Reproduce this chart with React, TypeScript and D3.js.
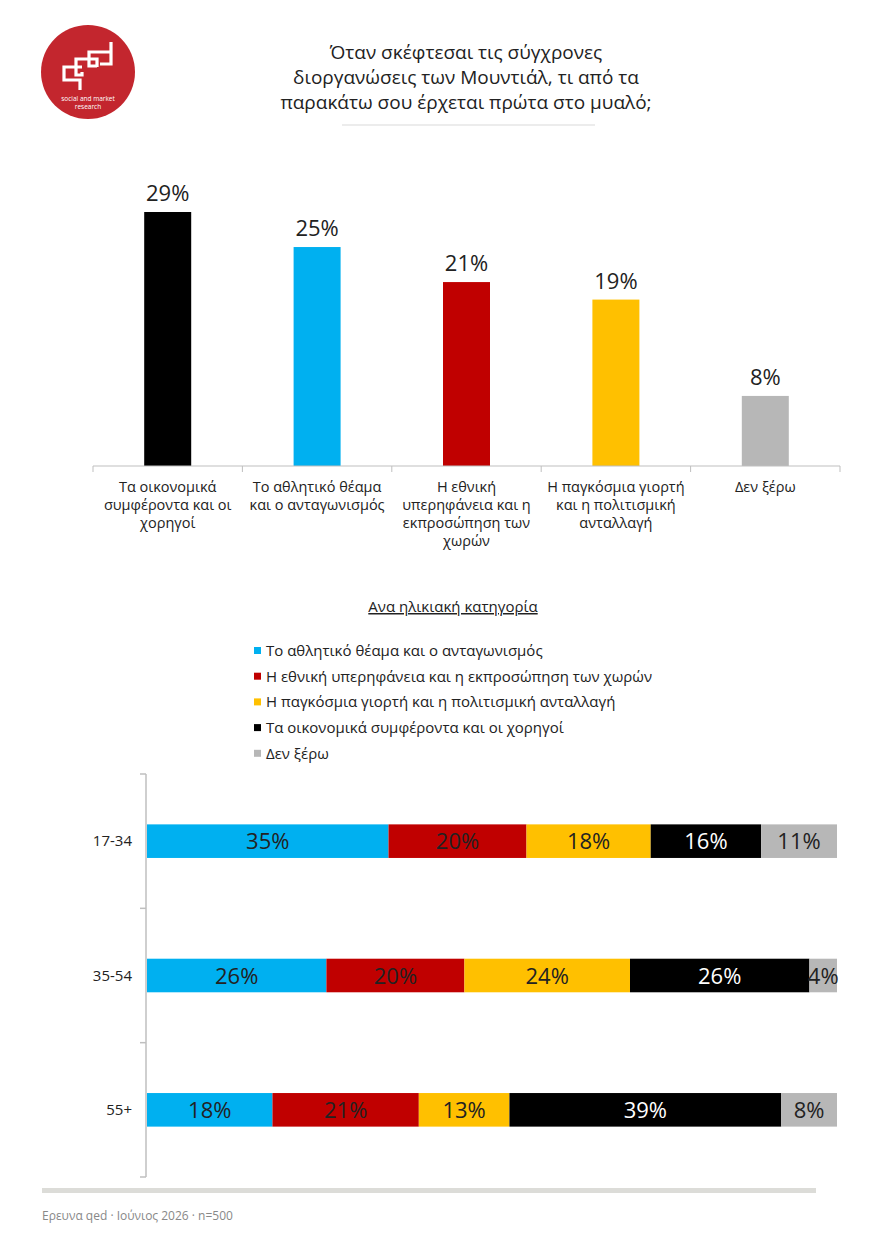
import React from "react";
import * as d3 from "d3";

// first chart: overall answers
const categories = [
  "Τα οικονομικά συμφέροντα και οι χορηγοί",
  "Το αθλητικό θέαμα και ο ανταγωνισμός",
  "Η εθνική υπερηφάνεια και η εκπροσώπηση των χωρών",
  "Η παγκόσμια γιορτή και η πολιτισμική ανταλλαγή",
  "Δεν ξέρω",
];
const categoryLines = [
  ["Τα οικονομικά", "συμφέροντα και οι", "χορηγοί"],
  ["Το αθλητικό θέαμα", "και ο ανταγωνισμός"],
  ["Η εθνική", "υπερηφάνεια και η", "εκπροσώπηση των", "χωρών"],
  ["Η παγκόσμια γιορτή", "και η πολιτισμική", "ανταλλαγή"],
  ["Δεν ξέρω"],
];
const totals = [29, 25, 21, 19, 8];
const barColors = ["#000000", "#00b0f0", "#c00000", "#ffc000", "#b7b7b7"];

// second chart: by age group, 100% stacked
const ageGroups = ["17-34", "35-54", "55+"];
const seriesNames = [
  "Το αθλητικό θέαμα και ο ανταγωνισμός",
  "Η εθνική υπερηφάνεια και η εκπροσώπηση των χωρών",
  "Η παγκόσμια γιορτή και η πολιτισμική ανταλλαγή",
  "Τα οικονομικά συμφέροντα και οι χορηγοί",
  "Δεν ξέρω",
];
const sport = [35, 26, 18];
const pride = [20, 20, 21];
const festival = [18, 24, 13];
const money = [16, 26, 39];
const dontKnow = [11, 4, 8];
const seriesColors = ["#00b0f0", "#c00000", "#ffc000", "#000000", "#b7b7b7"];
const seriesLabelColors = ["#222", "#222", "#222", "#fff", "#222"];

const FONT = "'Open Sans', 'DejaVu Sans', sans-serif";

function Logo() {
  return (
    <g>
      <circle cx={88} cy={72} r={47} fill="#c3262e" />
      <g fill="none" stroke="#fff" strokeWidth={3.2} strokeLinejoin="miter">
        <path d="M80,90 L80,80 L64,80 L64,67 L82,67" />
        <path d="M82,72 L82,75 L76,75 L76,59 L97,59 L97,67" />
        <path d="M97,66 L89,66 L89,52 L111,52 L111,64 L100,64 M111,52 L111,42" />
      </g>
      <text x={88} y={101} textAnchor="middle" fill="#fff" fontSize={6.5} fontFamily={FONT}>
        social and market
      </text>
      <text x={88} y={109} textAnchor="middle" fill="#fff" fontSize={6.5} fontFamily={FONT}>
        research
      </text>
    </g>
  );
}

function TopChart() {
  const baseline = 466;
  const x = d3.scaleBand<string>().domain(categories).range([93, 840]).paddingInner(0).paddingOuter(0);
  const y = d3.scaleLinear().domain([0, 29]).range([baseline, 212]);
  const bw = 47;
  const ticks = [...categories.map((c) => x(c)!), 840];
  return (
    <g>
      {categories.map((c, i) => {
        const cx = x(c)! + x.bandwidth() / 2;
        return (
          <g key={c}>
            <rect x={cx - bw / 2} y={y(totals[i])} width={bw} height={baseline - y(totals[i])} fill={barColors[i]} />
            <text x={cx} y={y(totals[i]) - 11} textAnchor="middle" fontSize={22} fill="#222" fontFamily={FONT}>
              {totals[i]}%
            </text>
            {categoryLines[i].map((l, j) => (
              <text key={j} x={cx} y={492 + j * 18} textAnchor="middle" fontSize={14.5} fill="#222" fontFamily={FONT}>
                {l}
              </text>
            ))}
          </g>
        );
      })}
      <line x1={93} x2={840} y1={baseline} y2={baseline} stroke="#bfbfbf" />
      {ticks.map((t, i) => (
        <line key={i} x1={t} x2={t} y1={baseline} y2={baseline + 6} stroke="#bfbfbf" />
      ))}
    </g>
  );
}

function AgeChart() {
  const rows = ageGroups.map((g, i) => ({
    group: g,
    s0: sport[i],
    s1: pride[i],
    s2: festival[i],
    s3: money[i],
    s4: dontKnow[i],
  }));
  const keys = ["s0", "s1", "s2", "s3", "s4"];
  const stacked = d3.stack<any>().keys(keys).offset(d3.stackOffsetExpand)(rows);
  const raw = [sport, pride, festival, money, dontKnow];
  const y = d3.scaleBand<string>().domain(ageGroups).range([774, 1177]).paddingInner(0.75).paddingOuter(0.375);
  const x = d3.scaleLinear().domain([0, 1]).range([147, 837]);
  const step = (1177 - 774) / ageGroups.length;
  return (
    <g>
      {stacked.map((layer, si) =>
        layer.map((d, ri) => {
          const x0 = x(d[0]);
          const x1 = x(d[1]);
          const yy = y(ageGroups[ri])!;
          return (
            <g key={`${si}-${ri}`}>
              <rect x={x0} y={yy} width={x1 - x0} height={y.bandwidth()} fill={seriesColors[si]} />
              <text
                x={(x0 + x1) / 2}
                y={yy + y.bandwidth() / 2 + 8}
                textAnchor="middle"
                fontSize={22}
                fill={seriesLabelColors[si]}
                fontFamily={FONT}
              >
                {raw[si][ri]}%
              </text>
            </g>
          );
        })
      )}
      <line x1={146} x2={146} y1={774} y2={1177} stroke="#bfbfbf" strokeWidth={1.5} />
      {d3.range(ageGroups.length + 1).map((i) => (
        <line key={i} x1={140} x2={146} y1={774 + i * step} y2={774 + i * step} stroke="#bfbfbf" strokeWidth={1.5} />
      ))}
      {ageGroups.map((g) => (
        <text key={g} x={132} y={y(g)! + y.bandwidth() / 2 + 5} textAnchor="end" fontSize={15} fill="#222" fontFamily={FONT}>
          {g}
        </text>
      ))}
    </g>
  );
}

function Legend() {
  return (
    <g>
      {seriesNames.map((s, i) => (
        <g key={s} transform={`translate(254,${651 + i * 25.7})`}>
          <rect x={0} y={-4} width={7} height={7} fill={seriesColors[i]} />
          <text x={12} y={5} fontSize={15} fill="#222" fontFamily={FONT}>
            {s}
          </text>
        </g>
      ))}
    </g>
  );
}

export default function App() {
  const title = [
    "Όταν σκέφτεσαι τις σύγχρονες",
    "διοργανώσεις των Μουντιάλ, τι από τα",
    "παρακάτω σου έρχεται πρώτα στο μυαλό;",
  ];
  return (
    <svg width={880} height={1245} style={{ position: "absolute", left: 0, top: 0, background: "#fff" }}>
      <rect width={880} height={1245} fill="#fff" />
      <Logo />
      {title.map((t, i) => (
        <text key={i} x={466} y={59 + i * 25} textAnchor="middle" fontSize={19} fill="#222" fontFamily={FONT}>
          {t}
        </text>
      ))}
      <line x1={342} x2={595} y1={125} y2={125} stroke="#d9d9d9" />
      <TopChart />
      <text x={453} y={612} textAnchor="middle" fontSize={15} fill="#222" fontFamily={FONT} textDecoration="underline">
        Ανα ηλικιακή κατηγορία
      </text>
      <Legend />
      <AgeChart />
      <rect x={42} y={1188} width={774} height={5} fill="#dcdcd8" />
      <text x={42} y={1220} fontSize={12} fill="#888" fontFamily={FONT}>
        Ερευνα qed · Ιούνιος 2026 · n=500
      </text>
    </svg>
  );
}
